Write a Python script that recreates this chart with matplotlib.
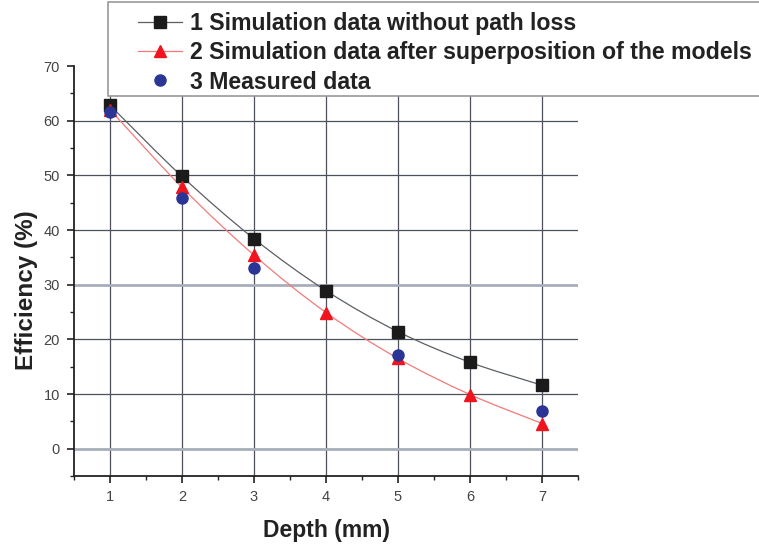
"""Efficiency vs depth: simulation (with / without path loss) and measurement."""

import matplotlib

matplotlib.use("Agg")
import matplotlib.pyplot as plt
import numpy as np
from matplotlib.path import Path
from matplotlib.patches import PathPatch, Rectangle
from matplotlib.lines import Line2D

plt.rcParams["font.family"] = ["Liberation Sans", "DejaVu Sans"]

depth = [1, 2, 3, 4, 5, 6, 7]
sim_no_loss = [62.8, 49.8, 38.4, 28.9, 21.4, 15.8, 11.6]
sim_superpos = [62.0, 47.8, 35.4, 24.9, 16.5, 9.9, 4.6]
meas_depth = [1, 2, 3, 5, 7]
measured = [61.5, 45.8, 33.0, 17.1, 6.9]

labels = [
    "1 Simulation data without path loss",
    "2 Simulation data after superposition of the models",
    "3 Measured data",
]

W, H = 759, 546


def smooth_path(x, y):
    # Catmull-Rom through the points, drawn as cubic Bezier segments
    x = np.asarray(x, float)
    y = np.asarray(y, float)
    p = np.column_stack([x, y])
    ext = np.vstack([2 * p[0] - p[1], p, 2 * p[-1] - p[-2]])
    verts = [p[0]]
    codes = [Path.MOVETO]
    for i in range(1, len(ext) - 2):
        p0, p1, p2, p3 = ext[i - 1], ext[i], ext[i + 1], ext[i + 2]
        verts += [p1 + (p2 - p0) / 6, p2 - (p3 - p1) / 6, p2]
        codes += [Path.CURVE4] * 3
    return Path(verts, codes)


fig = plt.figure(figsize=(W / 100, H / 100), dpi=100)
ax = fig.add_axes([74 / W, 1 - 476 / H, 504 / W, 410 / H])

black = "#1b1b1b"
red = "#f0141e"
blue = "#2a3596"

ax.add_patch(PathPatch(smooth_path(depth, sim_no_loss), fc="none",
                       ec="#5a5f66", lw=0.9, zorder=3))
ax.add_patch(PathPatch(smooth_path(depth, sim_superpos), fc="none",
                       ec="#f27a7a", lw=0.9, zorder=3))
ax.plot(depth, sim_no_loss, ls="none", marker="s", ms=8, color=black, zorder=4)
ax.plot(depth, sim_superpos, ls="none", marker="^", ms=9, color=red, zorder=4)
ax.plot(meas_depth, measured, ls="none", marker="o", ms=8, color=blue, zorder=5)

ax.set_xlim(0.5, 7.5)
ax.set_ylim(-5, 70)
ax.set_xticks(depth)
ax.set_xticks(np.arange(0.5, 7.6, 0.5), minor=True)
ax.set_yticks(np.arange(0, 71, 10))
ax.set_yticks(np.arange(-5, 71, 5), minor=True)
ax.tick_params(which="major", direction="out", length=5, width=1.2,
               labelsize=10.5, labelcolor="#444444", color="#222222", pad=5)
ax.tick_params(which="minor", direction="out", length=3, width=1.0,
               color="#222222")

for side in ("top", "right"):
    ax.spines[side].set_visible(False)
for side in ("left", "bottom"):
    ax.spines[side].set_linewidth(1.3)
    ax.spines[side].set_color("#222222")

ax.grid(True, which="major", color="#4d5159", lw=0.9, zorder=1)
ax.set_axisbelow(True)
for val, gl in zip(ax.get_yticks(), ax.get_ygridlines()):
    if val in (0, 30):
        gl.set_color("#a8afba")
        gl.set_linewidth(2.0)
    if val == 70:
        gl.set_visible(False)

ax.set_xlabel("Depth (mm)", fontsize=16.5, fontweight="bold", color="#222222")
ax.xaxis.set_label_coords(0.5, -0.105)
ax.set_ylabel("Efficiency (%)", fontsize=17.5, fontweight="bold", color="#222222")
ax.yaxis.set_label_coords(-0.071, 0.454)

# legend frame sticks out past the right edge of the figure
fig.add_artist(Rectangle((108 / W, 1 - 96 / H), 700 / W, 94 / H,
                         transform=fig.transFigure, fc="white", ec="#9a9a9a",
                         lw=1.2, zorder=4))

handles = [
    Line2D([], [], color="#5a5f66", lw=0.9, marker="s", ms=8,
           mfc=black, mec=black),
    Line2D([], [], color="#f27a7a", lw=0.9, marker="^", ms=9,
           mfc=red, mec=red),
    Line2D([], [], ls="none", marker="o", ms=8, mfc=blue, mec=blue),
]
leg = fig.legend(handles, labels, loc="upper left",
                 bbox_to_anchor=(138 / W, 1 - 12 / H),
                 prop={"weight": "bold", "size": 16.7}, frameon=False,
                 handlelength=1.9, handletextpad=0.35,
                 labelspacing=0.27, borderpad=0, borderaxespad=0)
leg.set_zorder(5)
for t in leg.get_texts():
    t.set_color("#222222")

fig.savefig("out.png", dpi=100)
